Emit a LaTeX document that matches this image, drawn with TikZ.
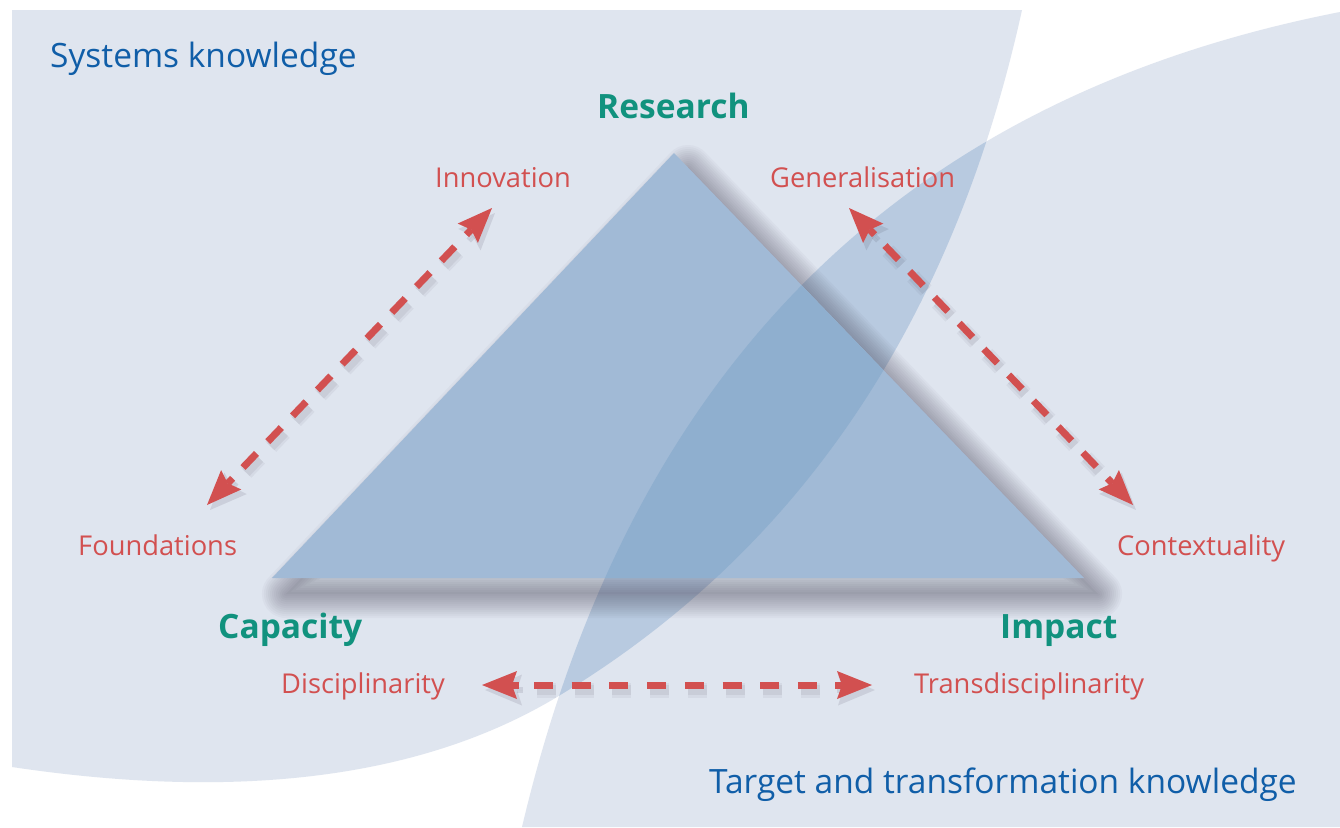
\documentclass[tikz,border=0pt]{standalone}
\usepackage{fontspec}
\setmainfont{Open Sans}
\usetikzlibrary{arrows.meta,calc}
\definecolor{bgc}{RGB}{223,229,239}
\definecolor{ovl}{RGB}{184,202,224}
\definecolor{tri}{RGB}{161,186,214}
\definecolor{triov}{RGB}{143,175,207}
\definecolor{kblue}{RGB}{16,94,168}
\definecolor{kteal}{RGB}{17,146,126}
\definecolor{kred}{RGB}{210,80,80}
\definecolor{kshadow}{RGB}{60,55,75}
\newcommand\kpathA{(12,10) -- (1022,10) .. controls (953,323) and (798,552) .. (557,697) .. controls (422,778) and (240,801) .. (12,767) -- cycle}
\newcommand\kpathB{(522,827) .. controls (630,370) and (900,98) .. (1340,12) -- (1340,827) -- cycle}
\newcommand\ktri{(apex) -- (bl) -- (br) -- cycle}
\tikzset{
  bluelbl/.style={font=\fontsize{33.5}{38}\selectfont, text=kblue, anchor=base west, inner sep=0pt},
  teallbl/.style={font=\bfseries\fontsize{33.5}{38}\selectfont, text=kteal, anchor=base west, inner sep=0pt},
  redlbl/.style={font=\fontsize{27.3}{32}\selectfont, text=kred, anchor=base west, inner sep=0pt},
  dashline/.style={draw=kred, line width=7pt, shorten <=52pt, shorten >=52pt},
  tiphead/.style={-{Stealth[length=35pt,width=28pt,inset=5pt,line width=0pt]}, draw=kred, fill=kred, line width=7pt},
  shadowline/.style={draw=kshadow, shorten <=52pt, shorten >=52pt},
  shadowhead/.style={-{Stealth[length=37pt,width=31pt,inset=5pt,line width=0pt]}, draw=kshadow, fill=kshadow, line width=6pt, opacity=0.12},
}
\newcommand\kdarrow[3]{%
  \begin{scope}[transform canvas={shift={(3,5)}}]
    \draw[shadowline, opacity=0.06, line width=15pt, dash pattern=#3] (#1) -- (#2);
    \draw[shadowline, opacity=0.08, line width=10pt, dash pattern=#3] (#1) -- (#2);
    \draw[shadowhead] ($(#1)!38pt!(#2)$) -- (#1);
    \draw[shadowhead] ($(#2)!38pt!(#1)$) -- (#2);
  \end{scope}
  \draw[dashline, dash pattern=#3] (#1) -- (#2);
  \draw[tiphead] ($(#1)!37pt!(#2)$) -- (#1);
  \draw[tiphead] ($(#2)!37pt!(#1)$) -- (#2);
}
\begin{document}
\begin{tikzpicture}[x=1pt,y=-1pt]
\useasboundingbox (0,0) rectangle (1340,827);
\fill[white] (0,0) rectangle (1340,827);
% background knowledge areas
\fill[bgc] \kpathA;
\fill[bgc] \kpathB;
\begin{scope}
  \clip \kpathA;
  \fill[ovl] \kpathB;
\end{scope}
% triangle
\coordinate (apex) at (674,153);
\coordinate (bl) at (272,578);
\coordinate (br) at (1084,578);
\begin{scope}[transform canvas={shift={(14,16)}}]
  \fill[kshadow, opacity=0.05] \ktri;
  \foreach \w in {48,44,40,36,32,28,24,20,16,12,8,4} {
    \draw[kshadow, opacity=0.035, line width=\w pt, line join=round] \ktri;
  }
\end{scope}
\fill[tri] \ktri;
\begin{scope}
  \clip \kpathA;
  \clip \kpathB;
  \fill[triov] \ktri;
\end{scope}
% labels
\node[bluelbl] (sys) at (50,67) {Systems knowledge};
\node[bluelbl] (tgt) at (709,793) {Target and transformation knowledge};
\node[teallbl] (res) at (597,118) {Research};
\node[teallbl] (cap) at (218,638) {Capacity};
\node[teallbl] (imp) at (1000,638) {Impact};
\node[redlbl] (inn) at (435,187) {Innovation};
\node[redlbl] (gen) at (770,187) {Generalisation};
\node[redlbl] (fnd) at (78,555) {Foundations};
\node[redlbl] (ctx) at (1117,555) {Contextuality};
\node[redlbl] (dis) at (281,693) {Disciplinarity};
\node[redlbl] (trd) at (914,693) {Transdisciplinarity};
% arrows
\coordinate (fA) at (207,505);
\coordinate (iA) at (492,208);
\coordinate (gA) at (849,208);
\coordinate (cA) at (1133,505);
\coordinate (dA) at (482,685);
\coordinate (tA) at (872,685);
\kdarrow{fA}{iA}{on 19.5pt off 16.3pt}
\kdarrow{gA}{cA}{on 19.5pt off 16.3pt}
\kdarrow{dA}{tA}{on 19pt off 18.7pt}
\end{tikzpicture}
\end{document}
